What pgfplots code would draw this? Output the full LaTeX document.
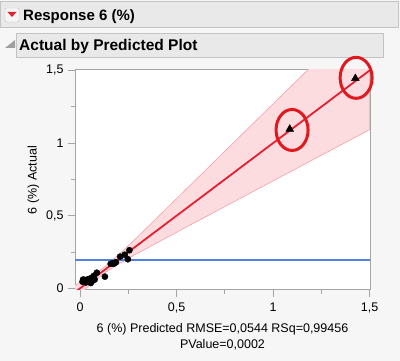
\documentclass[border=0pt]{standalone}
\usepackage{fontspec}
\setmainfont{Liberation Sans}
\usepackage{pgfplots}
\pgfplotsset{compat=1.18}
\definecolor{bgc}{RGB}{246,246,246}
\definecolor{hdr}{RGB}{233,233,233}
\definecolor{hdrb}{RGB}{195,195,195}
\definecolor{fitred}{RGB}{228,32,48}
\definecolor{bandfill}{RGB}{253,220,224}
\definecolor{bandedge}{RGB}{246,160,170}
\definecolor{meanblue}{RGB}{80,130,230}
\definecolor{ringred}{RGB}{225,25,30}
\definecolor{framec}{RGB}{165,165,165}
\pgfdeclareplotmark{ring}{%
  \pgfpathellipse{\pgfpointorigin}{\pgfqpoint{16bp}{0bp}}{\pgfqpoint{0bp}{20.5bp}}%
  \pgfusepathqstroke}
\begin{document}
\begin{tikzpicture}[x=1bp,y=1bp]
\useasboundingbox (0,0) rectangle (400,361);
\fill[bgc] (0,0) rectangle (400,361);
% header 1
\draw[hdrb,fill=hdr] (0.5,334) rectangle (398,360);
\draw[hdrb,fill=white!92!gray,rounded corners=1.5bp] (5,339) rectangle (19,353);
\fill[fitred] (7.5,349) -- (16.5,349) -- (12,344) -- cycle;
\node[anchor=base west,font=\fontsize{15bp}{18bp}\selectfont\bfseries,inner sep=0] at (23,341) {Response 6 (\%)};
% header 2
\draw[hdrb,fill=hdr] (16.5,304) rectangle (383,328);
\fill[gray!75] (15,321) -- (15,313) -- (5,313) -- cycle;
\node[anchor=base west,font=\fontsize{15.5bp}{18bp}\selectfont\bfseries,inner sep=0] at (19,311) {Actual by Predicted Plot};
\begin{axis}[
  at={(75bp,71bp)}, anchor=south west,
  scale only axis, width=295bp, height=220bp,
  xmin=-0.027, xmax=1.502, ymin=-0.012, ymax=1.503,
  axis background/.style={fill=white},
  axis line style={framec, line width=1bp},
  xtick={0,0.5,1,1.5}, xticklabels={0,{0,5},1,{1,5}},
  ytick={0,0.5,1,1.5}, yticklabels={0,{0,5},1,{1,5}},
  minor xtick={0.25,0.75,1.25}, minor ytick={0.25,0.75,1.25},
  tick align=outside, tick pos=left,
  major tick length=7bp, minor tick length=4bp,
  tick style={framec, line width=0.9bp},
  ticklabel style={font=\fontsize{12.5bp}{15bp}\selectfont, text=black},
  xticklabel style={yshift=-2.5bp},
  yticklabel style={xshift=-1bp},
  xlabel={6 (\%) Predicted RMSE=0,0544 RSq=0,99456\\PValue=0,0002},
  xlabel style={align=center, font=\fontsize{12.5bp}{16bp}\selectfont, yshift=-3bp},
  ylabel={6 (\%) Actual},
  ylabel style={font=\fontsize{12.5bp}{15bp}\selectfont, yshift=0bp},
  clip=true,
]
% confidence band
\addplot[fill=bandfill, draw=bandedge, line width=0.6bp] coordinates {
 (-0.03,0.019) (0,0.041) (0.05,0.076) (0.12,0.140) (0.2,0.232) (0.3,0.357) (0.45,0.553)
 (0.6,0.748) (0.9,1.140) (1.2,1.530) (1.5,1.920)
 (1.5,1.092) (1.2,0.881) (0.9,0.669) (0.6,0.457) (0.45,0.350) (0.3,0.243) (0.2,0.168)
 (0.12,0.100) (0.05,0.024) (0,-0.041) (-0.03,-0.079)} -- cycle;
% mean line
\addplot[meanblue, line width=1.2bp] coordinates {(-0.03,0.195) (1.51,0.195)};
% fit line
\addplot[fitred, line width=1.8bp] coordinates {(-0.03,-0.03) (1.51,1.51)};
% data points
\addplot[only marks, mark=*, mark size=3.1bp, black] coordinates {
 (0.255,0.262) (0.231,0.231) (0.247,0.200) (0.207,0.218) (0.185,0.179)
 (0.167,0.172) (0.176,0.170) (0.158,0.168) (0.128,0.080) (0.086,0.107)
 (0.070,0.085) (0.056,0.070) (0.040,0.052) (0.022,0.057) (0.012,0.045)
 (0.030,0.040) (0.047,0.045) (0.064,0.052) (0.015,0.060) (0.040,0.062)
 (0.055,0.036) (0.025,0.048) (0.075,0.060)};
\addplot[only marks, mark=triangle*, mark size=4.5bp, black] coordinates {
 (1.086,1.096) (1.426,1.445)};
% highlight rings
\addplot[only marks, mark=ring, ringred, line width=3bp] coordinates {
 (1.098,1.090) (1.430,1.449)};
\end{axis}
\end{tikzpicture}
\end{document}
